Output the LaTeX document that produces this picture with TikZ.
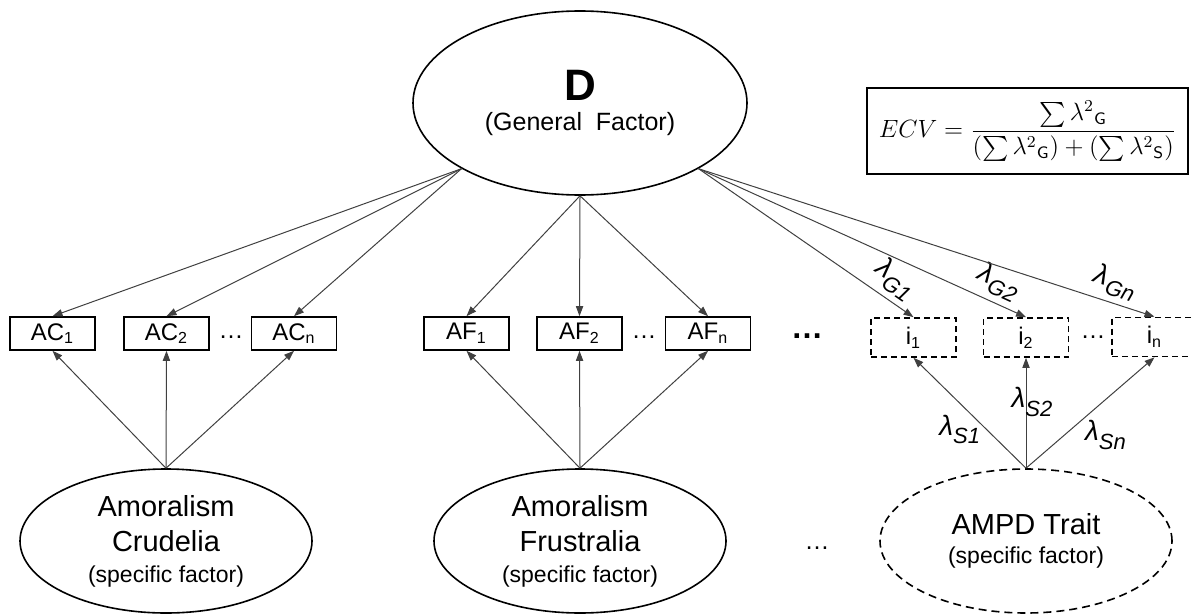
\documentclass[tikz,border=0pt]{standalone}
\usepackage{amsmath}
\usepackage{graphicx}
\usepackage{fontspec}
\setmainfont{Liberation Sans}
\usetikzlibrary{arrows.meta, positioning, shapes.geometric}
\newcommand{\lamsub}[1]{\textit{λ}\raisebox{-0.55ex}{\fontsize{11}{12}\selectfont\itshape #1}}

\begin{document}
\begin{tikzpicture}[x=0.5pt, y=-0.5pt,
		>={Triangle[length=5pt, width=3.6pt]},
		general/.style={ellipse, draw, line width=0.8pt, minimum width=167pt, minimum height=92pt, inner sep=0pt, align=center},
		specific/.style={ellipse, draw, line width=0.8pt, minimum width=146pt, minimum height=72pt, inner sep=0pt, align=center, font=\fontsize{14.5}{17.5}\selectfont},
		indicator/.style={rectangle, draw, line width=0.8pt, minimum width=42.5pt, minimum height=16.5pt, inner sep=0pt, font=\fontsize{12}{14}\selectfont},
		item/.style={indicator, minimum height=19.5pt, dash pattern=on 3pt off 2pt},
		load/.style={->, line width=0.5pt, black!75},
		lam_text/.style={font=\fontsize{14}{16}\selectfont, text=black, inner sep=3pt},
		gap_dots/.style={font=\fontsize{12.5}{14}\selectfont, inner sep=0pt}
		]
		\useasboundingbox (0,0) rectangle (1192,615);
		
		% General factor and ECV
		\node[general] (D) at (580,103) {{\fontsize{22}{26}\selectfont\bfseries D}\\[3pt]{\fontsize{12.5}{15}\selectfont (General\ \ Factor)}};
		\node[draw, line width=0.8pt, minimum width=160.5pt, minimum height=43pt, inner sep=1pt, font=\fontsize{12}{14}\selectfont] (ecv) at (1027.5,131)
			{\scalebox{1.04}{$ECV = \dfrac{\sum\lambda^{2}{}_{\mathsf{G}}}{(\sum\lambda^{2}{}_{\mathsf{G}})+(\sum\lambda^{2}{}_{\mathsf{S}})}$}};
		
		% Indicators (middle row)
		\node[indicator] (AC1) at (52.5,333.5) {AC\textsubscript{1}};
		\node[indicator] (AC2) at (166.5,333.5) {AC\textsubscript{2}};
		\node[indicator] (ACn) at (294,333.5) {AC\textsubscript{n}};
		\node[indicator] (AF1) at (466.5,333.5) {AF\textsubscript{1}};
		\node[indicator] (AF2) at (579.5,333.5) {AF\textsubscript{2}};
		\node[indicator] (AFn) at (708,333.5) {AF\textsubscript{n}};
		\node[item] (i1) at (913.5,337.5) {i\textsubscript{1}};
		\node[item] (i2) at (1026,337.5) {i\textsubscript{2}};
		\node[item] (in) at (1154.5,337) {i\textsubscript{n}};
		
		\node[gap_dots] (dotsAC) at (231,337) {…};
		\node[gap_dots] (dotsAF) at (644,337) {…};
		\node[gap_dots, font=\fontsize{16}{18}\selectfont\bfseries] (dotsmid) at (807,336) {…};
		\node[gap_dots] (dotsI) at (1093,337) {…};
		
		% Specific factors (bottom row)
		\node[specific] (crud) at (166,541) {Amoralism\\Crudelia\\[-2pt]{\fontsize{11.5}{14}\selectfont (specific factor)}};
		\node[specific] (frus) at (580,541) {Amoralism\\Frustralia\\[-2pt]{\fontsize{11.5}{14}\selectfont (specific factor)}};
		\node[specific, dash pattern=on 4pt off 2.5pt] (ampd) at (1026,541) {AMPD Trait\\[-3pt]{\fontsize{11.5}{14}\selectfont (specific factor)}};
		\node[gap_dots] (dotsfac) at (817,548) {…};
		
		% General loadings
		\draw[load] (D.209) -- (AC1.north);
		\draw[load] (D.209) -- (AC2.north);
		\draw[load] (D.209) -- (ACn.north);
		\draw[load] (D.south) -- (AF1.north);
		\draw[load] (D.south) -- (AF2.north);
		\draw[load] (D.south) -- (AFn.north);
		\draw[load] (D.331) -- node[pos=0.86, sloped, above, lam_text] {\lamsub{G1}} (i1.north);
		\draw[load] (D.331) -- node[pos=0.89, sloped, above, lam_text] {\lamsub{G2}} (i2.north);
		\draw[load] (D.331) -- node[pos=0.9, sloped, above, lam_text] {\lamsub{Gn}} (in.north);
		
		% Specific loadings
		\draw[load] (crud.north) -- (AC1.south);
		\draw[load] (crud.north) -- (AC2.south);
		\draw[load] (crud.north) -- (ACn.south);
		\draw[load] (frus.north) -- (AF1.south);
		\draw[load] (frus.north) -- (AF2.south);
		\draw[load] (frus.north) -- (AFn.south);
		\draw[load] (ampd.north) -- node[pos=0.35, left, lam_text] {\lamsub{S1}} (i1.south);
		\draw[load] (ampd.north) -- node[pos=0.6, xshift=3pt, lam_text, inner sep=0pt] {\lamsub{S2}} (i2.south);
		\draw[load] (ampd.north) -- node[pos=0.3, right=7pt, lam_text] {\lamsub{Sn}} (in.south);
		
	\end{tikzpicture}
\end{document}
